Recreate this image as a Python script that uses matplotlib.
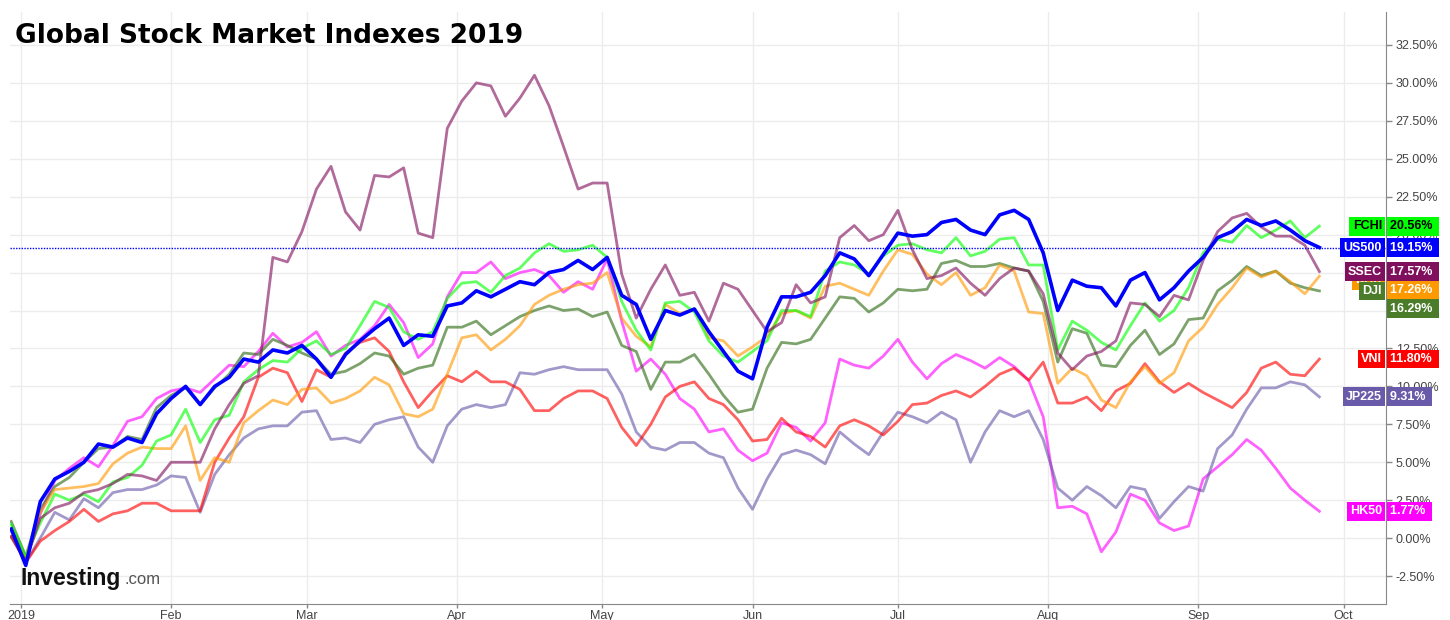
import numpy as np
import pandas as pd
import matplotlib
matplotlib.use('Agg')
import matplotlib.pyplot as plt
from matplotlib.transforms import blended_transform_factory

# daily-ish closes, % change since start of year
dates = pd.date_range('2018-12-30', periods=91, freq='3D')

us500 = [0.6, -1.8, 2.4, 3.9, 4.4, 5.0, 6.2, 6.0, 6.6, 6.3,
         8.2, 9.2, 10.0, 8.8, 10.0, 10.6, 11.8, 11.6, 12.4, 12.2,
         12.7, 11.8, 10.6, 12.1, 13.0, 13.8, 14.5, 12.7, 13.4, 13.3,
         15.3, 15.5, 16.3, 15.9, 16.4, 16.9, 16.7, 17.5, 17.7, 18.3,
         17.7, 18.5, 16.0, 15.4, 13.1, 15.0, 14.7, 15.1, 13.6, 12.3,
         11.0, 10.5, 13.9, 15.9, 15.9, 16.2, 17.3, 18.8, 18.4, 17.3,
         18.7, 20.1, 19.9, 20.0, 20.8, 21.0, 20.3, 20.0, 21.3, 21.6,
         21.0, 18.8, 15.0, 17.0, 16.6, 16.5, 15.3, 17.0, 17.5, 15.7,
         16.5, 17.6, 18.5, 19.8, 20.2, 21.0, 20.6, 20.9, 20.3, 19.6,
         19.15]

fchi = [0.9, -1.2, 1.0, 2.9, 2.5, 2.9, 2.4, 3.7, 4.0, 4.8,
        6.4, 6.8, 8.5, 6.3, 7.8, 8.1, 10.3, 11.1, 11.7, 11.6,
        12.5, 13.0, 12.1, 12.5, 14.0, 15.6, 15.2, 13.6, 13.1, 13.6,
        15.8, 16.8, 16.9, 16.2, 17.3, 17.8, 18.8, 19.4, 18.9, 19.0,
        19.3, 18.5, 15.6, 13.7, 12.4, 15.5, 15.6, 14.9, 13.0, 12.0,
        11.6, 12.3, 13.0, 15.0, 15.0, 14.6, 17.6, 18.2, 18.0, 17.4,
        18.6, 19.3, 19.4, 19.0, 18.8, 19.8, 18.6, 18.9, 19.7, 19.8,
        18.0, 18.0, 12.4, 14.3, 13.7, 12.9, 12.4, 14.0, 15.5, 14.3,
        15.0, 16.5, 18.8, 19.7, 19.5, 20.6, 19.8, 20.3, 20.9, 19.8,
        20.56]

ssec = [0.1, -1.5, 1.3, 2.0, 2.3, 3.0, 3.2, 3.6, 4.2, 4.1,
        3.8, 5.0, 5.0, 5.0, 7.2, 8.8, 10.2, 10.7, 18.5, 18.2,
        20.2, 23.0, 24.5, 21.5, 20.3, 23.9, 23.8, 24.4, 20.1, 19.8,
        27.0, 28.8, 30.0, 29.8, 27.8, 29.0, 30.5, 28.5, 25.8, 23.0,
        23.4, 23.4, 17.4, 14.5, 16.4, 18.0, 16.0, 16.2, 14.3, 16.8,
        16.4, 15.0, 13.6, 14.2, 16.7, 15.5, 15.9, 19.8, 20.6, 19.6,
        20.0, 21.6, 19.0, 17.1, 17.3, 17.8, 16.8, 16.0, 17.1, 17.8,
        17.6, 16.1, 12.2, 11.1, 12.0, 12.3, 13.0, 15.5, 15.4, 14.6,
        16.0, 15.7, 18.3, 20.2, 21.1, 21.4, 20.5, 19.9, 19.9, 19.3,
        17.57]

dji = [1.1, -1.2, 1.9, 3.4, 4.0, 5.0, 5.9, 6.0, 6.7, 6.5,
       8.6, 9.4, 9.9, 8.8, 9.9, 10.8, 12.2, 12.1, 13.1, 12.7,
       12.2, 11.8, 10.8, 11.0, 11.5, 12.2, 12.0, 10.8, 11.2, 11.4,
       13.9, 13.9, 14.3, 13.4, 14.0, 14.6, 15.0, 15.3, 15.0, 15.1,
       14.6, 14.9, 12.7, 12.3, 9.8, 11.6, 11.6, 12.1, 10.8, 9.4,
       8.3, 8.5, 11.2, 12.9, 12.8, 13.1, 14.5, 15.9, 15.8, 14.9,
       15.5, 16.4, 16.3, 16.4, 18.1, 18.3, 17.9, 17.9, 18.1, 17.8,
       17.6, 15.6, 11.6, 13.8, 13.5, 11.4, 11.3, 12.7, 13.7, 12.1,
       12.8, 14.4, 14.5, 16.3, 17.0, 17.9, 17.3, 17.6, 16.8, 16.5,
       16.29]

dax = [0.1, -1.3, 1.7, 3.2, 3.3, 3.4, 3.6, 4.9, 5.6, 6.0,
       5.9, 5.9, 7.4, 3.8, 5.3, 5.0, 7.6, 8.4, 9.1, 8.8,
       9.8, 9.9, 8.9, 9.2, 9.7, 10.6, 10.1, 8.2, 8.0, 8.5,
       10.8, 13.2, 13.4, 12.4, 13.1, 14.0, 15.4, 16.0, 16.4, 16.7,
       16.8, 17.5, 14.5, 13.3, 12.6, 15.4, 14.8, 15.1, 13.2, 13.0,
       12.0, 12.6, 13.3, 14.8, 15.0, 14.5, 16.6, 16.8, 16.4, 16.0,
       17.6, 19.0, 18.7, 17.4, 16.7, 17.5, 16.0, 16.5, 18.0, 17.6,
       14.9, 14.8, 10.2, 11.2, 10.7, 9.1, 8.6, 10.3, 11.3, 10.2,
       10.9, 13.0, 13.9, 15.4, 16.5, 17.8, 17.2, 17.6, 16.9, 16.1,
       17.26]

vni = [0.1, -1.6, -0.2, 0.5, 1.1, 1.9, 1.1, 1.6, 1.8, 2.3,
       2.3, 1.8, 1.8, 1.8, 5.0, 6.6, 8.0, 10.6, 11.2, 10.9,
       9.0, 11.1, 10.6, 12.2, 12.9, 13.2, 12.3, 10.3, 8.6, 9.7,
       10.7, 10.3, 11.0, 10.3, 10.3, 9.8, 8.4, 8.4, 9.2, 9.7,
       9.7, 9.2, 7.3, 6.1, 7.5, 9.3, 10.0, 10.3, 9.2, 8.8,
       7.8, 6.4, 6.5, 7.9, 7.0, 6.7, 6.0, 7.4, 7.8, 7.4,
       6.8, 7.7, 8.8, 8.9, 9.4, 9.7, 9.3, 10.0, 10.8, 11.2,
       10.4, 11.6, 8.9, 8.9, 9.3, 8.4, 9.7, 10.2, 11.5, 10.3,
       9.6, 10.2, 9.6, 9.1, 8.6, 9.6, 11.2, 11.6, 10.8, 10.7,
       11.8]

jp225 = [0.6, -1.6, 0.0, 1.7, 1.2, 2.6, 2.0, 3.0, 3.2, 3.2,
         3.5, 4.1, 4.0, 1.7, 4.2, 5.5, 6.6, 7.2, 7.4, 7.4,
         8.3, 8.4, 6.5, 6.6, 6.3, 7.5, 7.8, 8.0, 6.0, 5.0,
         7.4, 8.5, 8.8, 8.6, 8.8, 10.9, 10.8, 11.1, 11.3, 11.1,
         11.1, 11.1, 9.5, 7.0, 6.0, 5.8, 6.3, 6.3, 5.6, 5.3,
         3.3, 1.9, 3.9, 5.5, 5.8, 5.5, 4.9, 7.0, 6.2, 5.5,
         7.0, 8.3, 8.0, 7.6, 8.3, 7.8, 5.0, 7.0, 8.4, 8.0,
         8.4, 6.5, 3.3, 2.5, 3.4, 2.8, 2.0, 3.4, 3.2, 1.3,
         2.4, 3.4, 3.1, 5.9, 6.8, 8.5, 9.9, 9.9, 10.3, 10.1,
         9.31]

hk50 = [0.6, -1.6, 1.6, 3.8, 4.6, 5.3, 4.7, 6.1, 7.7, 8.0,
        9.2, 9.7, 9.9, 9.6, 10.5, 11.4, 11.3, 12.3, 13.5, 12.6,
        12.9, 13.6, 12.0, 12.7, 13.1, 14.0, 15.4, 14.2, 11.9, 12.8,
        15.9, 17.5, 17.5, 18.2, 17.1, 17.5, 17.7, 17.3, 16.2, 16.9,
        16.4, 18.4, 14.3, 11.0, 11.8, 10.8, 9.2, 8.5, 7.0, 7.2,
        5.8, 5.1, 5.6, 7.6, 7.3, 6.4, 7.6, 11.8, 11.4, 11.2,
        12.0, 13.1, 11.6, 10.5, 11.5, 12.1, 11.7, 11.2, 11.9, 11.3,
        10.4, 8.0, 2.0, 2.1, 1.6, -0.9, 0.4, 2.9, 2.5, 1.0,
        0.5, 0.8, 3.9, 4.7, 5.5, 6.5, 5.8, 4.6, 3.3, 2.5,
        1.77]

month_ticks = pd.date_range('2019-01-01', '2019-10-01', freq='MS')
month_labels = ['2019', 'Feb', 'Mar', 'Apr', 'May', 'Jun', 'Jul', 'Aug', 'Sep', 'Oct']

W, H = 1450, 620
fig = plt.figure(figsize=(W / 100, H / 100), dpi=100)
ax = fig.add_axes([10 / W, 16 / H, 1376 / W, 592 / H])

# (series, line colour, label box colour, text colour, name, name y, value y)
series = [
    (hk50, '#ff00ff', '#ff00ff', 'white', 'HK50', 1.77, 1.77),
    (jp225, '#6a5aaa', '#6a5aaa', 'white', 'JP225', 9.31, 9.31),
    (vni, '#ff0000', '#ff0000', 'white', 'VNI', 11.80, 11.80),
    (dji, '#2e6b12', '#4a7c2a', 'white', 'DJI', 16.29, 15.13),
    (dax, '#ff9900', '#ff9900', 'white', 'DAX', 17.0, 16.38),
    (fchi, '#00ff00', '#00ff00', 'black', 'FCHI', 20.56, 20.56),
    (ssec, '#80105e', '#80105e', 'white', 'SSEC', 17.57, 17.57),
]
for vals, lc, *_ in series:
    ax.plot(dates, vals, color=lc, lw=2.0, alpha=0.62, solid_joinstyle='round')
ax.plot(dates, us500, color='#0000ff', lw=2.6, solid_joinstyle='round')
ax.axhline(19.15, color='#0000ff', lw=1.0, ls=(0, (1, 1)))

ax.set_xlim(pd.Timestamp('2018-12-29 18:00'), pd.Timestamp('2019-10-09 18:00'))
ax.set_ylim(-4.34, 34.67)

ax.set_xticks(month_ticks)
ax.set_xticklabels(month_labels)
ax.set_yticks(np.arange(-2.5, 33, 2.5))
ax.set_yticklabels(['%.2f%%' % v for v in np.arange(-2.5, 33, 2.5)])
ax.yaxis.tick_right()
ax.tick_params(axis='both', colors='#888888', labelcolor='#444444', labelsize=9,
               length=4, width=1)
ax.tick_params(axis='x', pad=1, length=3)
ax.tick_params(axis='y', pad=3)
for lab in ax.get_xticklabels() + ax.get_yticklabels():
    lab.set_family('Liberation Sans')
ax.grid(True, color='#ececec', lw=1)
ax.set_axisbelow(True)
for s in ['left', 'top']:
    ax.spines[s].set_visible(False)
for s in ['right', 'bottom']:
    ax.spines[s].set_color('#888888')

# end-of-line labels on the right axis
trans = blended_transform_factory(ax.transAxes, ax.transData)
dx = 4 / 1376
boxes = [(s[4], s[2], s[3], s[5], s[6], s[0][-1]) for s in series]
boxes.append(('US500', '#0000ff', 'white', 19.15, 19.15, us500[-1]))
order = ['DAX', 'HK50', 'JP225', 'VNI', 'FCHI', 'US500', 'SSEC', 'DJI']
boxes.sort(key=lambda b: order.index(b[0]))
for name, fc, tc, yn, yv, last in boxes:
    kw = dict(transform=trans, va='center', fontsize=9, fontweight='bold',
              color=tc, family='Liberation Sans', clip_on=False, zorder=5)
    ax.text(1 - dx, yn, name, ha='right',
            bbox=dict(boxstyle='square,pad=0.27', fc=fc, ec='none'), **kw)
    ax.text(1 + dx, yv, '%.2f%% ' % last, ha='left',
            bbox=dict(boxstyle='square,pad=0.27', fc=fc, ec='none'), **kw)

fig.text(15 / W, 1 - 36 / H, 'Global Stock Market Indexes 2019', fontsize=19,
         fontweight='bold', va='center', ha='left', color='black')
fig.text(21 / W, 1 - 578 / H, 'Investing', fontsize=16.5, fontweight='bold',
         family='Liberation Sans', va='center', ha='left', color='#111111')
fig.text(124 / W, 1 - 580 / H, '.com', fontsize=12, family='Liberation Sans',
         va='center', ha='left', color='#555555')

fig.savefig('out.png', dpi=100)
